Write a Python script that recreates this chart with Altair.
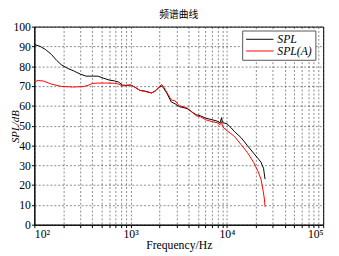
import altair as alt
import pandas as pd

freq_spl = [100, 115, 130, 150, 170, 190, 220, 260, 300, 345, 400, 457, 520, 600, 680, 750, 820, 900,
            1000, 1100, 1250, 1400, 1650, 1800, 2000, 2100, 2200, 2400, 2640, 2900, 3200, 3600, 3900,
            4300, 4800, 5300, 6000, 7000, 7900, 8500, 8800, 9000, 10000, 11000, 12000, 14000, 16300,
            19000, 21000, 22600, 24000, 24900]
spl = [91, 90, 88.5, 86, 83, 80.8, 79, 77.5, 76, 75, 75, 75, 74, 73, 72.6, 72, 70.5, 70.3,
       70.5, 69.5, 67.8, 67.5, 66.5, 67.5, 69.5, 70, 69, 66, 62, 61, 59.6, 59, 58.5,
       57, 55.5, 55, 53.8, 53, 52.3, 51.5, 54, 51.5, 51, 49, 47, 44, 40,
       36, 33.5, 31.5, 28.5, 23]

freq_spla = [100, 110, 125, 150, 190, 250, 320, 360, 400, 457, 550, 680, 750, 820, 900,
             1000, 1100, 1250, 1400, 1650, 1800, 2000, 2100, 2200, 2400, 2640, 2900, 3200, 3600, 3900,
             4300, 4800, 5300, 6000, 7000, 7900, 8500, 8800, 9000, 10000, 11000, 12000, 14000, 16300,
             19000, 21000, 22600, 23800, 24500, 24900]
spla = [72.2, 72.8, 72.5, 71, 69.8, 69.5, 69.7, 70.3, 71.3, 71.5, 71.5, 71.4, 71, 70, 70.4,
        70.5, 69.5, 67.8, 67.3, 66.5, 67.5, 69.8, 70.8, 69.5, 66.5, 63, 62.5, 60, 59.5, 58.8,
        57, 55, 54.5, 53, 52, 51.5, 50.5, 52, 49.5, 47.5, 46, 44.5, 40.5, 36.5,
        31.4, 27, 23, 17, 13, 9]

series_names = ["SPL", "SPL(A)"]
series_colors = ["#000000", "#ff0000"]

x_ticks = [m * 10 ** e for e in (2, 3, 4) for m in range(1, 10)] + [100000]
y_ticks = list(range(0, 101, 10))

df = pd.concat([
    pd.DataFrame({"f": freq_spl, "v": spl, "s": series_names[0], "o": range(len(spl))}),
    pd.DataFrame({"f": freq_spla, "v": spla, "s": series_names[1], "o": range(len(spla))}),
])

serif = "Liberation Serif"

chart = alt.Chart(df).mark_line(strokeWidth=1).encode(
    x=alt.X("f:Q", scale=alt.Scale(type="log", domain=[100, 100000], nice=False),
            axis=alt.Axis(values=x_ticks, title="Frequency/Hz",
                          labelExpr="datum.value==100?'10²':datum.value==1000?'10³':datum.value==10000?'10⁴':datum.value==100000?'10⁵':''",
                          tickSize=3, labelPadding=1, titlePadding=0)),
    y=alt.Y("v:Q", scale=alt.Scale(domain=[0, 100], nice=False),
            axis=alt.Axis(values=y_ticks, title="SPL/dB", tickSize=3, labelPadding=1,
                          titleX=-14, titleY=102, titleBaseline="bottom", titleAngle=-90)),
    color=alt.Color("s:N", scale=alt.Scale(domain=series_names, range=series_colors),
                    legend=alt.Legend(title=None, orient="none", legendX=213, legendY=4,
                                      symbolType="M-1,0H4.6", symbolSize=100, symbolStrokeWidth=1,
                                      labelFont=serif, labelFontStyle="italic", labelFontSize=12,
                                      strokeColor="#555", fillColor="white", padding=3,
                                      rowPadding=-1, labelOffset=21)),
    order="o:Q",
).properties(
    width=296, height=203,
    title=alt.TitleParams("频谱曲线", font="Noto Sans CJK SC", fontSize=10, fontWeight="normal", offset=1),
    padding={"left": 27, "top": 16, "right": 8, "bottom": 29},
    autosize=alt.AutoSizeParams(type="none"),
).configure_view(stroke="#000", strokeWidth=1).configure_axis(
    labelFont=serif, titleFont=serif, labelFontSize=12, titleFontSize=11,
    titleFontWeight="normal", labelColor="#000", titleColor="#000",
    domainColor="#000", tickColor="#000",
    gridColor="#000", gridDash=[2, 2], gridOpacity=0.8, gridWidth=0.6,
).configure_axisY(titleFontStyle="italic").configure_axisX(titleFontSize=12)

chart.save("out.html", embed_options={"renderer": "svg", "actions": False})
